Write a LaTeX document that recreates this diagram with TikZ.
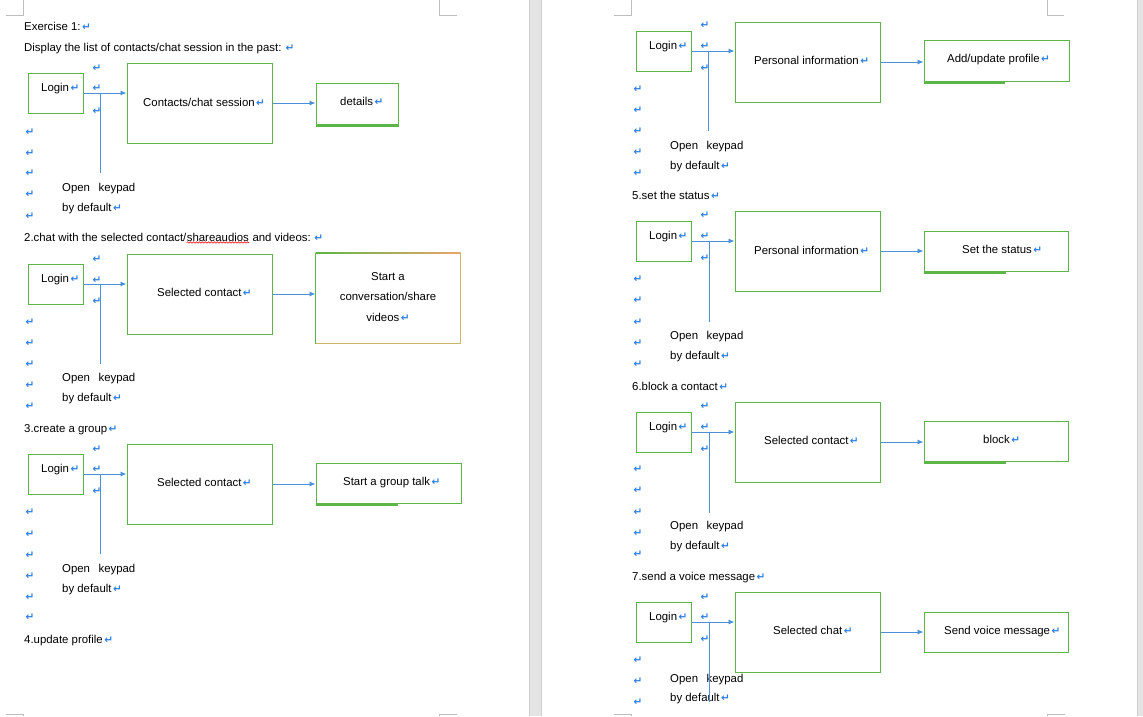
\documentclass[tikz,border=0pt]{standalone}
\usepackage{fontspec}
\setmainfont{Liberation Sans}
\newfontfamily\symfont{DejaVu Sans Bold}
\usetikzlibrary{arrows.meta,decorations.pathmorphing}

\definecolor{boxgreen}{HTML}{5DB547}
\definecolor{boxtan}{HTML}{CDB56A}
\definecolor{peach}{HTML}{EBA46C}
\definecolor{linkblue}{HTML}{4A90DA}
\definecolor{markblue}{HTML}{2F7FE0}
\definecolor{cropgray}{HTML}{BDBDBD}
\definecolor{gapgray}{HTML}{E4E4E4}
\definecolor{gapedge}{HTML}{CFCFCF}

% paragraph mark as shown by the word processor
\newcommand\retmark{{\symfont\fontsize{10.5}{11}\selectfont\color{markblue}↵}}
\newcommand\rmk{\kern1.5pt\retmark}
\newcommand\bodyfont{\fontsize{11.4}{13.7}\selectfont}

\tikzset{
  txt/.style={font=\bodyfont, inner sep=0pt, anchor=base west},
  mk/.style={inner sep=0pt},
  box/.style={draw=boxgreen, line width=1pt, inner sep=0pt},
  flow/.style={draw=linkblue, line width=0.9pt, -{Latex[length=6pt,width=5pt]}},
  stem/.style={draw=linkblue, line width=0.9pt},
  heavy/.style={draw=boxgreen, line width=2.6pt},
  corner/.style={draw=cropgray, line width=0.8pt},
  squiggle/.style={draw=red, line width=0.6pt, decorate,
    decoration={snake, amplitude=0.7pt, segment length=3pt}},
}

% box from its two corners: [options]{name}{x1}{y1}{x2}{y2}
\newcommand\mkbox[6][]{%
  \node[box,#1, minimum width={(#5)-(#3)}, minimum height={(#6)-(#4)}]
    (#2) at ({((#3)+(#5))/2},{((#4)+(#6))/2}) {};}
% column of empty paragraph marks: {prefix}{x}{list of y}
\newcommand\markcol[3]{%
  \foreach \yy [count=\i] in {#3} {\node[mk] (#1\i) at (#2,\yy) {\retmark};}}
% login -> middle -> result, plus the keypad stem
\newcommand\links[4]{%
  \draw[flow] (#1.east) -- (#1.east -| #2.west);
  \draw[flow] (#2.east) -- (#2.east -| #3.west);
  \draw[stem] (#4 |- #1.east) -- (#4);}

\begin{document}
\begin{tikzpicture}[x=1pt, y=-1pt]
\useasboundingbox (0,0) rectangle (1143,716);
\fill[white] (0,0) rectangle (1143,716);

% gaps between the pages
\fill[gapgray] (529,0) rectangle (542,716);
\draw[gapedge, line width=0.8pt] (529.4,0) -- (529.4,716) (541.6,0) -- (541.6,716);
\fill[gapgray] (1137,0) rectangle (1143,716);
\draw[gapedge, line width=0.8pt] (1137.4,0) -- (1137.4,716);

% margin corner marks
\draw[corner] (23,0) -- (23,15) -- (6,15);
\draw[corner] (439,0) -- (439,15) -- (457,15);
\draw[corner] (6,714) -- (23,714) -- (23,716);
\draw[corner] (457,714) -- (439,714) -- (439,716);
\draw[corner] (631,0) -- (631,15) -- (614,15);
\draw[corner] (1047,0) -- (1047,15) -- (1064,15);
\draw[corner] (614,714) -- (631,714) -- (631,716);
\draw[corner] (1065,714) -- (1047,714) -- (1047,716);

% ---------------- page 1 ----------------
\node[txt] (ex) at (24,30) {Exercise 1:\rmk};
\node[txt] (t1) at (24,51) {Display the list of contacts/chat session in the past: \retmark};

% 1: contacts / chat session
\markcol{ma}{97}{68,88,111}
\markcol{na}{30}{132,153,173,194,216}
\mkbox{loginA}{28}{73}{83}{113}
\node[txt] (loginAt) at (41,91) {Login\rmk};
\mkbox{midA}{127}{63}{272}{143}
\node[txt] (midAt) at (143,106) {Contacts/chat session\rmk};
\mkbox{endA}{316}{83}{398}{124}
\node[txt] (endAt) at (340,105) {details\rmk};
\draw[heavy] ([yshift=-0.8pt]endA.south west) -- ([yshift=-0.8pt]endA.south east);
\node[txt] (keyA) at (62,191) {Open\hspace{8.5pt}keypad};
\node[txt] (defA) at (62,211) {by default\rmk};
\coordinate (stemA) at (100,173);
\links{loginA}{midA}{endA}{stemA}

% 2: chat with the selected contact
\node[txt] (t2a) at (24,241) {2.chat with the selected contact/};
\node[txt] (t2b) at (t2a.base east) {shareaudios};
\node[txt] (t2c) at (t2b.base east) {\ and videos:\kern2pt\rmk};
\draw[squiggle] ([yshift=-1.5pt]t2b.base west) -- ([yshift=-1.5pt]t2b.base east);
\markcol{mb}{97}{259,280,301}
\markcol{nb}{30}{322,343,364,385,406}
\mkbox{loginB}{28}{264}{83}{304}
\node[txt] (loginBt) at (41,282) {Login\rmk};
\mkbox{midB}{127}{254}{272}{334}
\node[txt] (midBt) at (157,296) {Selected contact\rmk};
\mkbox[draw=none]{endB}{316}{253}{460}{343}
\draw[line width=1pt, boxtan] (endB.north east) -- (endB.south east) -- (endB.south west);
\draw[line width=1pt, boxgreen] (endB.south west) -- (endB.north west);
\shade[left color=boxgreen, right color=peach]
  ([yshift=-0.5pt]endB.north west) rectangle ([yshift=0.5pt]endB.north east);
\node[txt, anchor=center, align=center, font={\fontsize{11.4}{20.5}\selectfont}]
  (endBt) at (388,297) {Start a\\conversation/share\\videos\rmk};
\node[txt] (keyB) at (62,381) {Open\hspace{8.5pt}keypad};
\node[txt] (defB) at (62,401) {by default\rmk};
\coordinate (stemB) at (100,364);
\links{loginB}{midB}{endB}{stemB}

% 3: create a group
\node[txt] (t3) at (24,432) {3.create a group\rmk};
\markcol{mc}{97}{449,469,491}
\markcol{nc}{30}{512,534,555,576,597,617}
\mkbox{loginC}{28}{454}{83}{494}
\node[txt] (loginCt) at (41,472) {Login\rmk};
\mkbox{midC}{127}{444}{272}{524}
\node[txt] (midCt) at (157,486) {Selected contact\rmk};
\mkbox{endC}{316}{463}{461}{503}
\node[txt] (endCt) at (343,485) {Start a group talk\rmk};
\draw[heavy] ([yshift=-0.8pt]endC.south west) -- ++(82,0);
\node[txt] (keyC) at (62,572) {Open\hspace{8.5pt}keypad};
\node[txt] (defC) at (62,592) {by default\rmk};
\coordinate (stemC) at (100,554);
\links{loginC}{midC}{endC}{stemC}

\node[txt] (t4) at (24,643) {4.update profile\rmk};

% ---------------- page 2 ----------------
% 4: update profile
\markcol{md}{705}{25,46,68}
\markcol{nd}{638}{89,110,131,152,173}
\mkbox{loginD}{636}{31}{691}{71}
\node[txt] (loginDt) at (649,49) {Login\rmk};
\mkbox{midD}{735}{22}{880}{102}
\node[txt] (midDt) at (754,64) {Personal information\rmk};
\mkbox{endD}{924}{40}{1069}{81}
\node[txt] (endDt) at (947,62) {Add/update profile\rmk};
\draw[heavy] ([yshift=-0.8pt]endD.south west) -- ++(81,0);
\node[txt] (keyD) at (670,149) {Open\hspace{8.5pt}keypad};
\node[txt] (defD) at (670,169) {by default\rmk};
\coordinate (stemD) at (708,131);
\links{loginD}{midD}{endD}{stemD}

% 5: set the status
\node[txt] (t5) at (632,199) {5.set the status\rmk};
\markcol{me}{705}{215,236,258}
\markcol{ne}{638}{279,300,322,343,364}
\mkbox{loginE}{636}{221}{691}{261}
\node[txt] (loginEt) at (649,239) {Login\rmk};
\mkbox{midE}{735}{211}{880}{291}
\node[txt] (midEt) at (754,254) {Personal information\rmk};
\mkbox{endE}{924}{231}{1068}{271}
\node[txt] (endEt) at (962,253) {Set the status\rmk};
\draw[heavy] ([yshift=-0.8pt]endE.south west) -- ++(82,0);
\node[txt] (keyE) at (670,339) {Open\hspace{8.5pt}keypad};
\node[txt] (defE) at (670,359) {by default\rmk};
\coordinate (stemE) at (709,322);
\links{loginE}{midE}{endE}{stemE}

% 6: block a contact
\node[txt] (t6) at (632,390) {6.block a contact\rmk};
\markcol{mf}{705}{406,427,449}
\markcol{nf}{638}{469,490,512,533,554}
\mkbox{loginF}{636}{412}{691}{452}
\node[txt] (loginFt) at (649,430) {Login\rmk};
\mkbox{midF}{735}{402}{880}{482}
\node[txt] (midFt) at (764,444) {Selected contact\rmk};
\mkbox{endF}{924}{421}{1068}{461}
\node[txt] (endFt) at (983,443) {block\rmk};
\draw[heavy] ([yshift=-0.8pt]endF.south west) -- ++(82,0);
\node[txt] (keyF) at (670,529) {Open\hspace{8.5pt}keypad};
\node[txt] (defF) at (670,549) {by default\rmk};
\coordinate (stemF) at (709,513);
\links{loginF}{midF}{endF}{stemF}

% 7: send a voice message
\node[txt] (t7) at (632,580) {7.send a voice message\rmk};
\markcol{mg}{705}{597,617,639}
\markcol{ng}{638}{660,681,702}
\mkbox{loginG}{636}{602}{691}{642}
\node[txt] (loginGt) at (649,620) {Login\rmk};
\mkbox{midG}{735}{592}{880}{672}
\node[txt] (midGt) at (773,634) {Selected chat\rmk};
\mkbox{endG}{924}{612}{1068}{652}
\node[txt] (endGt) at (944,634) {Send voice message\rmk};
\node[txt] (keyG) at (670,682) {Open\hspace{8.5pt}keypad};
\node[txt] (defG) at (670,701) {by default\rmk};
\coordinate (stemG) at (709,702);
\links{loginG}{midG}{endG}{stemG}
\end{tikzpicture}
\end{document}
